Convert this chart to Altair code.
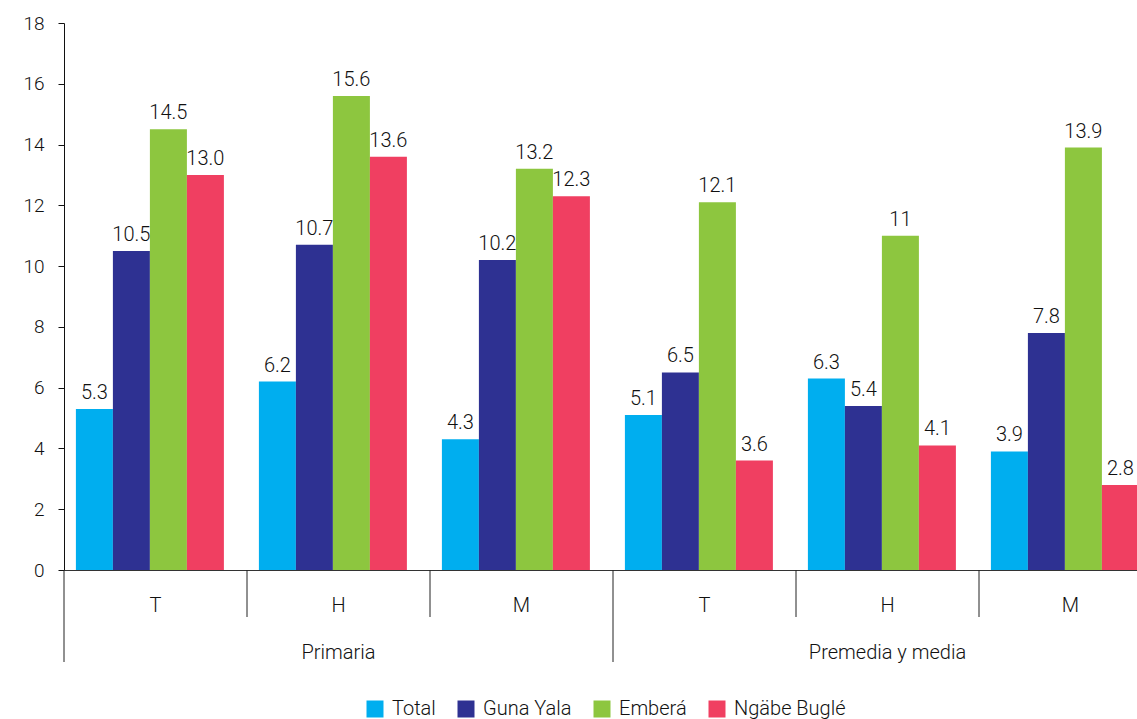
import altair as alt
import pandas as pd

levels = ["Primaria", "Primaria", "Primaria", "Premedia y media", "Premedia y media", "Premedia y media"]
subs = ["T", "H", "M", "T", "H", "M"]
series = ["Total", "Guna Yala", "Emberá", "Ngäbe Buglé"]
colors = ["#00AEEF", "#2E3192", "#8DC63F", "#F03F61"]

total = [5.3, 6.2, 4.3, 5.1, 6.3, 3.9]
guna = [10.5, 10.7, 10.2, 6.5, 5.4, 7.8]
embera = [14.5, 15.6, 13.2, 12.1, 11.0, 13.9]
ngabe = [13.0, 13.6, 12.3, 3.6, 4.1, 2.8]

total_lbl = ["5.3", "6.2", "4.3", "5.1", "6.3", "3.9"]
guna_lbl = ["10.5", "10.7", "10.2", "6.5", "5.4", "7.8"]
embera_lbl = ["14.5", "15.6", "13.2", "12.1", "11", "13.9"]
ngabe_lbl = ["13.0", "13.6", "12.3", "3.6", "4.1", "2.8"]

y_ticks = [0, 2, 4, 6, 8, 10, 12, 14, 16, 18]

FONT = "Roboto"
FW = 300
TXT = "#111111"

grp_keys = [f"{l}|{s}" for l, s in zip(levels, subs)]

rows = []
for i, g in enumerate(grp_keys):
    for s, vals, lbls in zip(series, [total, guna, embera, ngabe],
                             [total_lbl, guna_lbl, embera_lbl, ngabe_lbl]):
        rows.append({"grp": g, "series": s, "value": vals[i], "label": lbls[i]})
df = pd.DataFrame(rows)

gdf = pd.DataFrame({
    "grp": grp_keys,
    "level": levels,
    "sub": subs,
    "kind": ["long" if s == "T" else "short" for s in subs],
})


def x_channel(**kw):
    return alt.X(
        "grp:N",
        scale=alt.Scale(domain=grp_keys, range=[0, 1098], paddingInner=0, paddingOuter=0),
        axis=alt.Axis(labels=False, ticks=False, domain=True, domainColor="#333333",
                      domainWidth=1, title=None, grid=False),
        **kw,
    )


x_enc = x_channel()
xoff_enc = alt.XOffset(
    "series:N",
    scale=alt.Scale(domain=series, paddingInner=0, paddingOuter=0.473, align=0.34),
)
y_enc = alt.Y(
    "value:Q",
    scale=alt.Scale(domain=[0, 18], nice=False),
    axis=alt.Axis(values=y_ticks, title=None, grid=False, tickSize=6, labelPadding=14,
                  labelFontSize=19, labelFont=FONT, labelFontWeight=FW, labelColor=TXT,
                  domainColor="#111111", tickColor="#111111"),
)

bars = alt.Chart(df).mark_bar().encode(
    x=x_enc,
    xOffset=xoff_enc,
    y=y_enc,
    color=alt.Color(
        "series:N",
        scale=alt.Scale(domain=series, range=colors),
        legend=alt.Legend(
            orient="none", legendX=301, legendY=676, direction="horizontal",
            title=None, symbolType="square", symbolSize=289, symbolStrokeWidth=0,
            labelFontSize=20, labelFont=FONT, labelFontWeight=FW, labelColor=TXT,
            labelOffset=7, columnPadding=20, columns=4, padding=0,
        ),
    ),
)

bar_text = alt.Chart(df).mark_text(
    dy=-10, baseline="alphabetic", fontSize=20, font=FONT, fontWeight=FW, color=TXT
).encode(
    x=x_enc,
    xOffset=xoff_enc,
    y=y_enc,
    text="label:N",
)

short_sep = alt.Chart(gdf).transform_filter(alt.datum.kind == "short").mark_rule(
    color="#222222", strokeWidth=1
).encode(
    x=x_channel(bandPosition=0),
    y=alt.value(547),
    y2=alt.value(594),
)

long_sep = alt.Chart(gdf).transform_filter(alt.datum.kind == "long").mark_rule(
    color="#222222", strokeWidth=1
).encode(
    x=x_channel(bandPosition=0),
    y=alt.value(547),
    y2=alt.value(639),
)

sub_text = alt.Chart(gdf).mark_text(
    baseline="middle", fontSize=20, font=FONT, fontWeight=FW, color=TXT
).encode(
    x=x_enc,
    y=alt.value(583),
    text="sub:N",
)

level_text = alt.Chart(gdf).transform_filter(alt.datum.sub == "H").mark_text(
    baseline="middle", fontSize=20, font=FONT, fontWeight=FW, color=TXT
).encode(
    x=x_enc,
    y=alt.value(630),
    text="level:N",
)

chart = alt.layer(bars, bar_text, short_sep, long_sep, sub_text, level_text).properties(
    width=1073,
    height=547,
    autosize=alt.AutoSizeParams(type="none"),
    padding={"left": 64, "top": 23, "right": 0, "bottom": 149},
    background="white",
).configure_view(stroke=None)

chart.save("out.html", embed_options={"renderer": "svg", "actions": False})
